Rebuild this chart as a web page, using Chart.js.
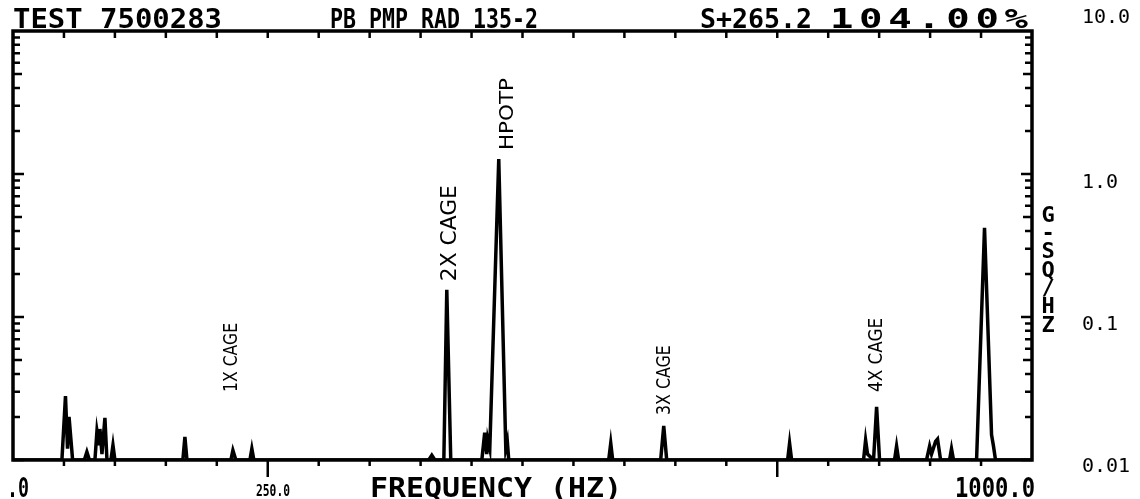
<!DOCTYPE html>
<html>
<head>
<meta charset="utf-8">
<script src="https://cdn.jsdelivr.net/npm/chart.js@4/dist/chart.umd.min.js"></script>
<style>
  html, body { margin: 0; padding: 0; background: #fff; }
  #wrap { width: 1140px; height: 499px; }
</style>
</head>
<body>
<div id="wrap"><canvas id="psd" width="1140" height="499"></canvas></div>
<script>
// spectrum trace (Hz, g^2/Hz)
var freqHz = [0, 48, 51.5, 53.5, 55, 58.5,
    70, 72.5, 75,
    80.4, 82.4, 84.4, 85.3, 87.3, 90.2, 92.2,
    96.1, 98.1, 100,
    166.7, 168.7, 170.7,
    213.8, 215.8, 218.7,
    232.5, 234.4, 236.4,
    408, 411, 414,
    422.8, 425.7, 429.6,
    460.1, 462.9, 464.9, 465.9, 467.9, 476.7, 483.6, 485.1, 486.5,
    584.6, 586.6, 588.5,
    635.6, 638.6, 641.5,
    760.2, 762.1, 764.1,
    834.7, 836.7, 838.6, 844.5, 847.5, 850.4,
    865.1, 867.1, 869.1,
    896.5, 899.5, 901.4, 905.4, 907.3, 910.3,
    919.1, 921, 923,
    945.6, 953.4, 960.3, 962.2, 964.2,
    1000];
var gsq = [0.01, 0.01, 0.028, 0.012, 0.02, 0.01,
    0.01, 0.0114, 0.01,
    0.01, 0.016, 0.013, 0.0165, 0.011, 0.0197, 0.01,
    0.01, 0.0127, 0.01,
    0.01, 0.0145, 0.01,
    0.01, 0.0117, 0.01,
    0.01, 0.012, 0.01,
    0.01, 0.0108, 0.01,
    0.01, 0.155, 0.01,
    0.01, 0.0155, 0.011, 0.014, 0.012, 1.27, 0.012, 0.0135, 0.01,
    0.01, 0.0131, 0.01,
    0.01, 0.0173, 0.01,
    0.01, 0.0131, 0.01,
    0.01, 0.0138, 0.011, 0.01, 0.0235, 0.01,
    0.01, 0.0125, 0.01,
    0.01, 0.0125, 0.011, 0.0135, 0.014, 0.01,
    0.01, 0.012, 0.01,
    0.01, 0.42, 0.015, 0.0125, 0.01,
    0.01];

// peak call-outs: text, frequency, level where the text starts
var calloutText = ["1X CAGE", "2X CAGE", "HPOTP", "3X CAGE", "4X CAGE"];
var calloutHz = [214.8, 429.6, 485.5, 639.5, 847.5];
var calloutLevel = [0.0299, 0.178, 1.47, 0.0206, 0.0299];

var yDecades = [0.01, 0.1, 1, 10];
var yDecadeLabels = ["0.01", "0.1", "1.0", "10.0"];
var xTickStep = 50;
var xLongTicks = [250, 750];
var titleParts = ["TEST 7500283", "PB PMP RAD 135-2", "S+265.2", "104.00%"];
var yUnitLetters = ["G", "-", "S", "Q", "/", "H", "Z"];

var points = [];
for (var i = 0; i < freqHz.length; i++) {
    points.push({x: freqHz[i], y: gsq[i]});
}

var PLOT_FONT = '"DejaVu Sans Mono", monospace';

// squeeze text into a width, or widen it (up to 1.5x) and spread the rest
function fitText(ctx, text, x, y, width, font) {
    ctx.font = font;
    var w = ctx.measureText(text).width;
    var sx = Math.min(width / w, 1.5);
    ctx.save();
    ctx.translate(x, y);
    ctx.scale(sx, 1);
    if (sx * w >= width - 1 || text.length < 2) {
        ctx.fillText(text, 0, 0);
    } else {
        var gap = (width / sx - w) / (text.length - 1), cx = 0;
        for (var i = 0; i < text.length; i++) {
            ctx.fillText(text[i], cx, 0);
            cx += ctx.measureText(text[i]).width + gap;
        }
    }
    ctx.restore();
}

var frame = {
    id: "frame",
    beforeDatasetsDraw: function(chart) {
        var ctx = chart.ctx,
            a = chart.chartArea,
            xs = chart.scales.x,
            ys = chart.scales.y;

        ctx.save();
        ctx.strokeStyle = "#000";
        ctx.lineWidth = 3.5;
        ctx.strokeRect(a.left, a.top, a.right - a.left, a.bottom - a.top);

        // frequency ticks, outward on the bottom, inward on top
        ctx.lineWidth = 2.5;
        ctx.beginPath();
        for (var f = xTickStep; f < xs.max; f += xTickStep) {
            var px = xs.getPixelForValue(f);
            var len = xLongTicks.indexOf(f) >= 0 ? 17 : 6;
            ctx.moveTo(px, a.bottom);
            ctx.lineTo(px, a.bottom + len);
            ctx.moveTo(px, a.top);
            ctx.lineTo(px, a.top + 7);
        }
        // log ticks on both sides, inward
        for (var d = 0; d < yDecades.length - 1; d++) {
            for (var m = 1; m < 10; m++) {
                var v = yDecades[d] * m;
                var py = ys.getPixelForValue(v);
                var tl = m === 1 ? 11 : (m === 5 ? 9 : 7);
                ctx.moveTo(a.left, py);
                ctx.lineTo(a.left + tl, py);
                ctx.moveTo(a.right, py);
                ctx.lineTo(a.right - tl, py);
            }
        }
        ctx.stroke();
        ctx.restore();
    },
    afterDraw: function(chart) {
        var ctx = chart.ctx,
            a = chart.chartArea,
            xs = chart.scales.x,
            ys = chart.scales.y;

        ctx.save();
        ctx.fillStyle = "#000";
        ctx.textBaseline = "alphabetic";

        // header, sits on the top frame line
        var bold = "bold 26px " + PLOT_FONT;
        fitText(ctx, titleParts[0], 13, a.top - 3, 209, bold);
        fitText(ctx, titleParts[1], 330, a.top - 3, 208, bold);
        fitText(ctx, titleParts[2], 700, a.top - 3, 112, bold);
        fitText(ctx, titleParts[3], 830, a.top - 3, 198, bold);

        // frequency axis text
        fitText(ctx, ".0", 7, 497, 22, "bold 27px " + PLOT_FONT);
        fitText(ctx, "250.0", 256, 496, 34, "bold 16px " + PLOT_FONT);
        fitText(ctx, "FREQUENCY (HZ)", 370, 497, 252, "bold 27px " + PLOT_FONT);
        fitText(ctx, "1000.0", 955, 497, 80, "bold 27px " + PLOT_FONT);

        // decade labels at the right
        ctx.textBaseline = "middle";
        ctx.font = "20px " + PLOT_FONT;
        var decY = [467, 325, 183, 18];
        for (var i = 0; i < yDecadeLabels.length; i++) {
            ctx.fillText(yDecadeLabels[i], 1082, decY[i]);
        }

        // unit, one upright letter under the other
        ctx.textAlign = "center";
        ctx.font = "bold 22px " + PLOT_FONT;
        for (var k = 0; k < yUnitLetters.length; k++) {
            ctx.fillText(yUnitLetters[k], 1048, 216 + k * 18.3);
        }

        // peak call-outs, read bottom to top
        ctx.textAlign = "left";
        var calloutLen = [69, 96, 72, 70, 74],
            calloutSize = [19, 22, 19, 19, 19];
        for (var j = 0; j < calloutText.length; j++) {
            var cx = xs.getPixelForValue(calloutHz[j]),
                cy = ys.getPixelForValue(calloutLevel[j]);
            ctx.save();
            ctx.translate(cx, cy);
            ctx.rotate(-Math.PI / 2);
            ctx.font = calloutSize[j] + "px \"DejaVu Sans\", sans-serif";
            var w = ctx.measureText(calloutText[j]).width;
            ctx.scale(calloutLen[j] / w, 1);
            ctx.fillText(calloutText[j], 0, 0);
            ctx.restore();
        }
        ctx.restore();
    }
};

new Chart(document.getElementById("psd"), {
    type: "line",
    data: {
        datasets: [{
            data: points,
            borderColor: "#000",
            borderWidth: 3.5,
            pointRadius: 0,
            tension: 0,
            fill: false
        }]
    },
    options: {
        responsive: false,
        animation: false,
        devicePixelRatio: 1,
        layout: {padding: {left: 13, top: 31, right: 108, bottom: 39}},
        plugins: {legend: {display: false}, tooltip: {enabled: false}},
        scales: {
            x: {type: "linear", min: 0, max: 1000, display: false},
            y: {type: "logarithmic", min: 0.01, max: 10, display: false}
        }
    },
    plugins: [frame]
});
</script>
</body>
</html>
